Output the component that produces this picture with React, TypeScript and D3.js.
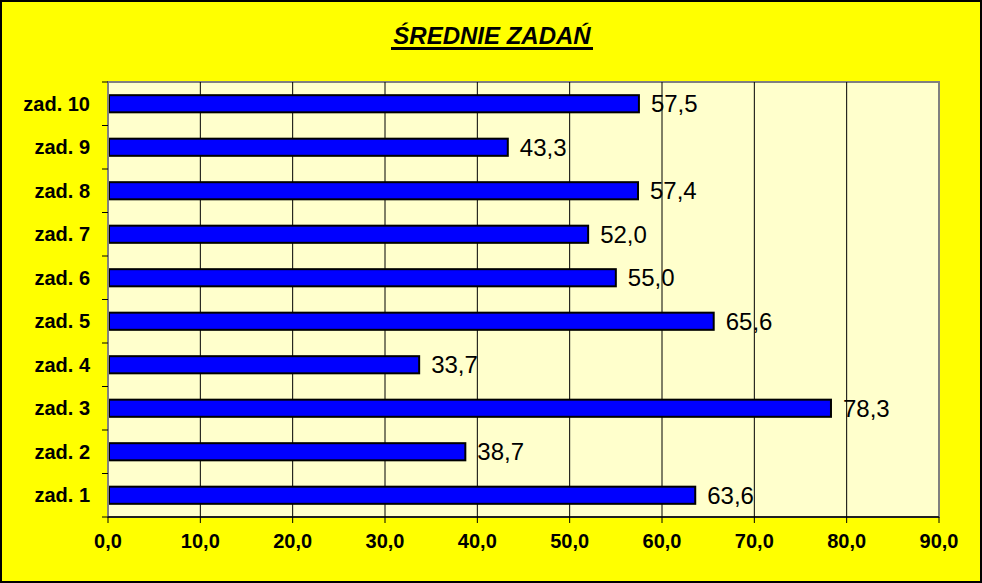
import React from "react";
import * as d3 from "d3";

const categories = ["zad. 1", "zad. 2", "zad. 3", "zad. 4", "zad. 5", "zad. 6", "zad. 7", "zad. 8", "zad. 9", "zad. 10"];
const values = [63.6, 38.7, 78.3, 33.7, 65.6, 55.0, 52.0, 57.4, 43.3, 57.5];
const xTicks = [0, 10, 20, 30, 40, 50, 60, 70, 80, 90];
const title = "ŚREDNIE ZADAŃ";

const W = 982;
const H = 583;
const plot = { left: 108, right: 939, top: 82, bottom: 517 };
const font = "Arial, 'Liberation Sans', sans-serif";

const fmt = (v: number) => d3.format(".1f")(v).replace(".", ",");

export default function App() {
  const x = d3.scaleLinear().domain([0, 90]).range([plot.left, plot.right]);
  const y = d3
    .scaleBand<string>()
    .domain([...categories].reverse())
    .range([plot.top, plot.bottom])
    .paddingInner(0.56)
    .paddingOuter(0.28);
  const step = y.step();
  const bw = y.bandwidth();

  return (
    <svg
      width={W}
      height={H}
      style={{ position: "absolute", left: 0, top: 0, display: "block" }}
      fontFamily={font}
    >
      <rect x={0} y={0} width={W} height={H} fill="#FFFF00" />
      <rect x={1} y={1} width={W - 2} height={H - 2} fill="none" stroke="#000" strokeWidth={2} />
      {/* title */}
      <text x={492} y={44} textAnchor="middle" fontSize={24} fontWeight="bold" fontStyle="italic" fill="#000">
        {title}
      </text>
      <rect x={391} y={47} width={202} height={3} fill="#000" />

      {/* plot area */}
      <rect
        x={plot.left}
        y={plot.top}
        width={plot.right - plot.left}
        height={plot.bottom - plot.top}
        fill="#FFFFCC"
        stroke="#808080"
        strokeWidth={2}
      />
      {xTicks.slice(1, -1).map((t) => (
        <line key={"g" + t} x1={x(t)} x2={x(t)} y1={plot.top} y2={plot.bottom} stroke="#000" strokeWidth={1} />
      ))}

      {/* bars */}
      {categories.map((c, i) => (
        <g key={c}>
          <rect
            x={x(0) + 1}
            y={(y(c) as number) + 1}
            width={x(values[i]) - x(0) - 1}
            height={bw - 2}
            fill="#0000FF"
            stroke="#000"
            strokeWidth={2}
          />
          <text
            x={x(values[i]) + 12}
            y={(y(c) as number) + bw / 2}
            dy="0.36em"
            fontSize={24}
            fill="#000"
          >
            {fmt(values[i])}
          </text>
          <text
            x={90}
            y={(y(c) as number) + bw / 2}
            dy="0.36em"
            textAnchor="end"
            fontSize={20}
            fontWeight="bold"
            fill="#000"
          >
            {c}
          </text>
        </g>
      ))}

      {/* y axis */}
      <line x1={plot.left} x2={plot.left} y1={plot.top} y2={plot.bottom} stroke="#808080" strokeWidth={2} />
      {d3.range(categories.length + 1).map((k) => (
        <line
          key={"yt" + k}
          x1={plot.left - 6}
          x2={plot.left}
          y1={plot.top + k * step}
          y2={plot.top + k * step}
          stroke="#000"
          strokeWidth={1}
        />
      ))}

      {/* x axis */}
      <line x1={plot.left} x2={plot.right} y1={plot.bottom} y2={plot.bottom} stroke="#000" strokeWidth={1.5} />
      {xTicks.map((t) => (
        <g key={"xt" + t}>
          <line x1={x(t)} x2={x(t)} y1={plot.bottom} y2={plot.bottom + 6} stroke="#000" strokeWidth={1} />
          <text x={x(t)} y={548} textAnchor="middle" fontSize={20} fontWeight="bold" fill="#000">
            {fmt(t)}
          </text>
        </g>
      ))}
    </svg>
  );
}
